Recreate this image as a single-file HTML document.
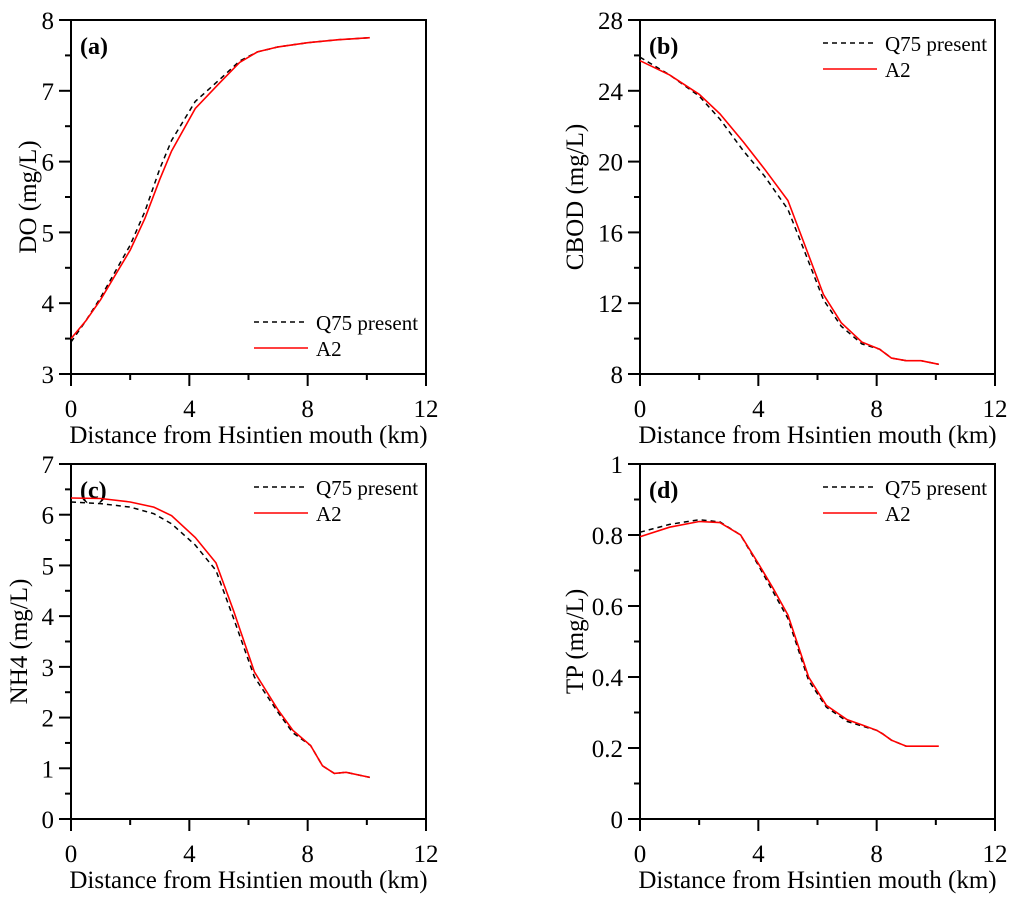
<!DOCTYPE html>
<html><head><meta charset="utf-8">
<style>
html,body{margin:0;padding:0;background:#fff;}
svg{display:block;font-family:"Liberation Serif",serif;}
</style></head>
<body>
<svg id="fig" width="1024" height="901" viewBox="0 0 1024 901" xmlns="http://www.w3.org/2000/svg"></svg>
<script>
// Shared x data (distance, km)
const xA = [0,0.5,1,1.5,2,2.5,3,3.4,4.2,5,5.7,6.3,7,7.5,8,9,10.1];
const doA2 = [3.5,3.75,4.05,4.4,4.75,5.2,5.75,6.15,6.75,7.1,7.4,7.55,7.62,7.65,7.68,7.72,7.75];
const doQ75 = [3.45,3.75,4.08,4.45,4.82,5.3,5.9,6.3,6.85,7.15,7.42,7.55,7.62,7.65,7.68,7.72,7.75];

const xB = [0,1,2,2.7,3.5,4.2,5,5.5,6.2,6.8,7.5,8.1,8.5,9,9.5,10.1];
const bodA2 = [25.7,24.9,23.8,22.7,21.1,19.6,17.8,15.6,12.5,10.9,9.8,9.4,8.9,8.75,8.75,8.55];
const bodQ75 = [25.9,24.9,23.7,22.4,20.6,19.2,17.3,15.2,12.2,10.7,9.7,9.4,8.9,8.75,8.75,8.55];

const xC = [0,1,2,2.8,3.4,4.2,4.9,5.5,6.2,7,7.5,8.1,8.5,8.9,9.3,10.1];
const nhA2 = [6.33,6.32,6.25,6.15,5.98,5.55,5.05,4.1,2.9,2.15,1.75,1.45,1.05,0.9,0.92,0.82];
const nhQ75 = [6.25,6.22,6.15,6.02,5.82,5.4,4.9,3.95,2.8,2.1,1.7,1.45,1.05,0.9,0.92,0.82];

const xD = [0,1,2,2.7,3.4,4,4.5,5,5.5,5.7,6.3,7,7.5,8,8.2,8.5,9,10.1];
const tpA2 = [0.795,0.822,0.838,0.835,0.8,0.72,0.65,0.575,0.45,0.4,0.32,0.28,0.265,0.25,0.24,0.222,0.205,0.205];
const tpQ75 = [0.808,0.83,0.843,0.837,0.8,0.715,0.64,0.565,0.44,0.39,0.315,0.275,0.262,0.25,0.24,0.222,0.205,0.205];

const xTicks = [0,4,8,12];
const ticksA = [3,4,5,6,7,8];
const ticksB = [8,12,16,20,24,28];
const ticksC = [0,1,2,3,4,5,6,7];
const ticksD = [0,0.2,0.4,0.6,0.8,1];
const ticksDLabels = ["0","0.2","0.4","0.6","0.8","1"];

const NS="http://www.w3.org/2000/svg";
const svg=document.getElementById('fig');
function mk(tag,attrs,parent){const e=document.createElementNS(NS,tag);for(const k in attrs)e.setAttribute(k,attrs[k]);(parent||svg).appendChild(e);return e;}

function panel(o){
  const g=mk('g',{});
  
  
  const L=o.L,R=o.R,T=o.T,B=o.B;
  const sx=v=>L+(v-0)/(12-0)*(R-L);
  const sy=v=>B-(v-o.ymin)/(o.ymax-o.ymin)*(B-T);
  const fr=mk('rect',{x:L,y:T,width:R-L,height:B-T,fill:'none',stroke:'#000','stroke-width':2},g);
  
  
  for(let i=0;i<xTicks.length;i++){
    const v=xTicks[i],x=sx(v);
    mk('line',{x1:x,y1:B,x2:x,y2:B+12,stroke:'#000','stroke-width':2},g);
    const t=mk('text',{x:x,y:B+43,'font-size':25,'text-anchor':'middle'},g);
    t.textContent=v;
    
    
    if(i<xTicks.length-1){const xm=sx(v+2);mk('line',{x1:xm,y1:B,x2:xm,y2:B+6,stroke:'#000','stroke-width':2},g);}
  }
  const yt=o.ticks;
  for(let i=0;i<yt.length;i++){
    const v=yt[i],y=sy(v);
    mk('line',{x1:L-12,y1:y,x2:L,y2:y,stroke:'#000','stroke-width':2},g);
    const t=mk('text',{x:L-17,y:y+9,'font-size':25,'text-anchor':'end'},g);
    t.textContent=o.labels?o.labels[i]:v;
    
    
    if(i<yt.length-1){const ym=sy((v+yt[i+1])/2);mk('line',{x1:L-6,y1:ym,x2:L,y2:ym,stroke:'#000','stroke-width':2},g);}
  }
  const xt=mk('text',{x:(L+R)/2,y:B+69,'font-size':25,'text-anchor':'middle'},g);
  xt.textContent='Distance from Hsintien mouth (km)';
  
  
  const cy=(T+B)/2, cx=o.ytx;
  const ytt=mk('text',{x:cx,y:cy,'font-size':25,'text-anchor':'middle',transform:`rotate(-90 ${cx} ${cy})`},g);
  ytt.textContent=o.ytitle;
  
  
  const pl=mk('text',{x:L+9,y:T+34,'font-size':24,'font-weight':'bold'},g);
  pl.textContent='('+o.id+')';
  
  
  const pts=(xs,ys)=>xs.map((x,i)=>sx(x).toFixed(1)+','+sy(ys[i]).toFixed(1)).join(' ');
  const q=mk('polyline',{points:pts(o.x,o.q),fill:'none',stroke:'#000','stroke-width':1.5,'stroke-dasharray':'5,4'},g);
  
  
  const a=mk('polyline',{points:pts(o.x,o.a),fill:'none',stroke:'#ff0000','stroke-width':1.6},g);
  
  
  const lg=mk('g',{},g);
  
  
  const ly=o.legBottom?B-52:T+23;
  mk('line',{x1:R-172,y1:ly,x2:R-118,y2:ly,stroke:'#000','stroke-width':1.5,'stroke-dasharray':'5,4'},lg);
  const t1=mk('text',{x:R-110,y:ly+8,'font-size':21},lg);t1.textContent='Q75 present';
  
  
  mk('line',{x1:R-172,y1:ly+26,x2:R-118,y2:ly+26,stroke:'#ff0000','stroke-width':1.6},lg);
  const t2=mk('text',{x:R-110,y:ly+34,'font-size':21},lg);t2.textContent='A2';
  
  
}
panel({id:'a',L:71,R:426,T:20,B:374,ymin:3,ymax:8,ticks:ticksA,x:xA,a:doA2,q:doQ75,ytitle:'DO (mg/L)',ytx:36,legBottom:true});
panel({id:'b',L:640,R:995,T:20,B:374,ymin:8,ymax:28,ticks:ticksB,x:xB,a:bodA2,q:bodQ75,ytitle:'CBOD (mg/L)',ytx:583});
panel({id:'c',L:71,R:426,T:464,B:819,ymin:0,ymax:7,ticks:ticksC,x:xC,a:nhA2,q:nhQ75,ytitle:'NH4 (mg/L)',ytx:27});
panel({id:'d',L:640,R:995,T:464,B:819,ymin:0,ymax:1,ticks:ticksD,labels:ticksDLabels,x:xD,a:tpA2,q:tpQ75,ytitle:'TP (mg/L)',ytx:583});
</script>
</body></html>
